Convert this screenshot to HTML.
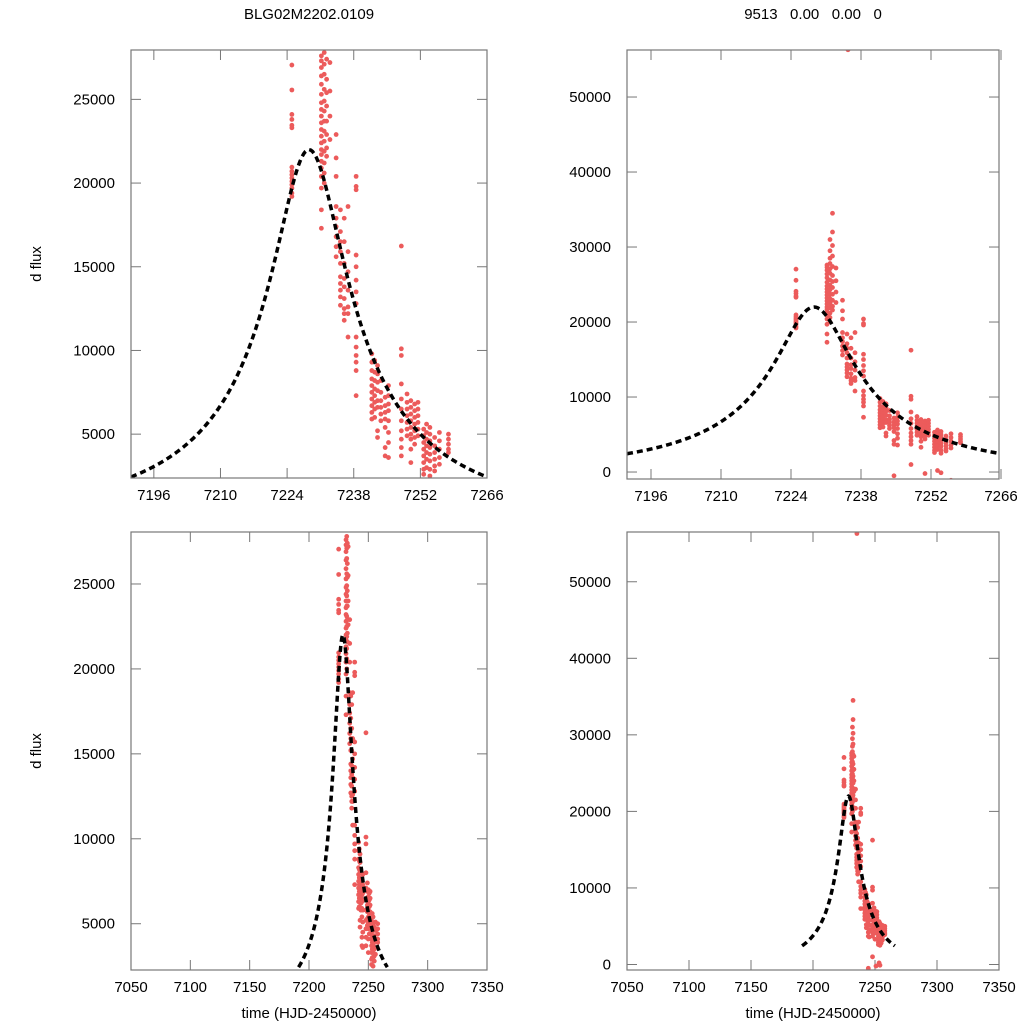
<!DOCTYPE html>
<html><head><meta charset="utf-8"><style>
html,body{margin:0;padding:0;background:#fff;}
svg{display:block;font-family:"Liberation Sans",Arial,sans-serif;}
</style></head><body>
<svg id="chart" width="1024" height="1024" viewBox="0 0 1024 1024" xmlns="http://www.w3.org/2000/svg">
<rect width="1024" height="1024" fill="#fff"/>
<text x="309" y="19" font-size="15" text-anchor="middle">BLG02M2202.0109</text>
<text x="813" y="19" font-size="15" text-anchor="middle" xml:space="preserve">9513   0.00   0.00   0</text>
<text transform="translate(41,264) rotate(-90)" font-size="15" text-anchor="middle">d flux</text>
<text transform="translate(41,751) rotate(-90)" font-size="15" text-anchor="middle">d flux</text>
<text x="309" y="1018" font-size="15" text-anchor="middle">time (HJD-2450000)</text>
<text x="813" y="1018" font-size="15" text-anchor="middle">time (HJD-2450000)</text>
</svg>
<script>
// observation epochs (HJD-2450000), one per group
const groupTimes = [7225.0,7231.2,7231.8,7232.3,7233.0,7234.3,7235.4,7235.2,7236.0,7236.8,7238.5,7241.8,7242.4,7243.0,7243.7,7244.6,7245.3,7248.0,7249.2,7250.0,7250.8,7251.5,7252.7,7253.3,7254.0,7255.0,7256.0,7257.9];
// flux values for each epoch group
const groupFluxes = [
 [27050,25560,24100,23800,23450,23300,20950,20700,20500,20300,20100,19900,19700,19400,19200],
 [27600,27300,26900,26400,25900,25300,24800,24400,24000,23600,23200,22800,22400,22000,21700,21300,20900,20400,19700,18400,17300],
 [31000,29500,28500,27800,27100,26500,25600,24900,24300,23700,23100,22500,21900,21200,20600,20000],
 [34500,32000,30200,28800,27400,26200,25400,24600,23700,22900,22100,21600],
 [27200,25500,24000,22600],
 [22900,21500,20400,18600,17900,17400,16800,16200,15600],
 [56300],
 [18400,17100,16500,15900,15200,14400,14000,13600,13200,12700],
 [17900,16500,15200,14300,13800,13100,12500,12200,11800],
 [18600,15900,14700,13600,12600,12200,10800],
 [20400,19800,19600,15700,15000,14200,13500,12800,10800,10200,9700,9300,8800,7300],
 [9800,9300,8800,8300,7900,7500,7100,6700,6300,5900],
 [9400,8700,8200,7700,7300,6900,6500,6000],
 [9100,8600,8100,7600,7000,6600,5200,4800],
 [8200,7500,7000,6600,6200,5800],
 [7200,6700,6300,5900,5400,4200,3700,-500],
 [7900,7300,6800,6400,5800,5100,4500,3600],
 [16240,10100,9700,8000,7100,6500,5800,5200,4700,4200,3700,1000],
 [7400,6900,6500,6100,5700,5300,4900],
 [7000,6600,6200,5800,5400,5000,4700,4100,3300],
 [6800,6400,6000,5600,5200,4800,4400,-200],
 [6900,6500,6100,5700,5300,4900],
 [5300,4900,4500,4100,3700,3300,2900,2600],
 [5600,5100,4700,4300,3900,3500,3000,200],
 [5400,5000,4600,4200,3800,3400,2900,2500,-100],
 [4800,4300,3900,3500,3100,2800],
 [5100,4600,4100,3600,3200,-1100],
 [5000,4700,4400,4100,3900]
];
// PSPL model parameters: t0, tE, u0, source flux
const modelParams = [7228.6, 52.6, 0.15, 3844];
const modelRange = [7191.2, 7266];
const xTicksZoom = [7196,7210,7224,7238,7252,7266];
const xTicksWide = [7050,7100,7150,7200,7250,7300,7350];
const yTicksSmall = [5000,10000,15000,20000,25000];
const yTicksBig = [0,10000,20000,30000,40000,50000];

const NS = "http://www.w3.org/2000/svg";
const svg = document.getElementById('chart');
function mk(tag, attrs, parent){const e=document.createElementNS(NS,tag);for(const k in attrs)e.setAttribute(k,attrs[k]);(parent||svg).appendChild(e);return e;}
function model(t){const [t0,tE,u0,fs]=modelParams;const tau=(t-t0)/tE;const u=Math.sqrt(u0*u0+tau*tau);const A=(u*u+2)/(u*Math.sqrt(u*u+4));return fs*(A-1);}

const panels = [
 {id:'top-left', x0:131,x1:487,y0:50,y1:478,xmin:7191.2,xmax:7266,ymin:2380,ymax:27950,xt:xTicksZoom,yt:yTicksSmall},
 {id:'top-right',x0:627,x1:999,y0:50,y1:479,xmin:7191.2,xmax:7265.6,ymin:-930,ymax:56270,xt:xTicksZoom,yt:yTicksBig},
 {id:'bottom-left',x0:131,x1:487,y0:532,y1:970,xmin:7050,xmax:7350,ymin:2276,ymax:28060,xt:xTicksWide,yt:yTicksSmall},
 {id:'bottom-right',x0:627,x1:999,y0:532,y1:970,xmin:7050,xmax:7350,ymin:-720,ymax:56500,xt:xTicksWide,yt:yTicksBig}
];

panels.forEach((p,i)=>{
 const X=t=>p.x0+(t-p.xmin)/(p.xmax-p.xmin)*(p.x1-p.x0);
 const Y=f=>p.y1-(f-p.ymin)/(p.ymax-p.ymin)*(p.y1-p.y0);
 const g=mk('g',{});
 
 
 const cp=mk('clipPath',{id:'clip'+i},g);
 mk('rect',{x:p.x0,y:p.y0,width:p.x1-p.x0,height:p.y1-p.y0},cp);
 p.xt.forEach(v=>{const x=X(v);
  const t1=mk('line',{x1:x,x2:x,y1:p.y1,y2:p.y1-10,stroke:'#777','stroke-width':1},g);
   
  mk('line',{x1:x,x2:x,y1:p.y0,y2:p.y0+10,stroke:'#777','stroke-width':1},g);
  const lb=mk('text',{x:x,y:p.y1+22,'font-size':15,'text-anchor':'middle'},g);lb.textContent=v;
   
 });
 p.yt.forEach(v=>{const y=Y(v);
  mk('line',{x1:p.x0,x2:p.x0+10,y1:y,y2:y,stroke:'#777','stroke-width':1},g);
  mk('line',{x1:p.x1,x2:p.x1-10,y1:y,y2:y,stroke:'#777','stroke-width':1},g);
  const lb=mk('text',{x:p.x0-16,y:y+5,'font-size':15,'text-anchor':'end'},g);lb.textContent=v;
   
 });
 const pg=mk('g',{'clip-path':'url(#clip'+i+')',fill:'#ec5b5b'},g);
  
 groupTimes.forEach((t,k)=>{groupFluxes[k].forEach(f=>{
  const c=mk('circle',{cx:X(t).toFixed(2),cy:Y(f).toFixed(2),r:2.4},pg);
   
 });});
 let d='';const n=200;
 for(let k=0;k<=n;k++){const t=modelRange[0]+(modelRange[1]-modelRange[0])*k/n;d+=(k?'L':'M')+X(t).toFixed(2)+','+Y(model(t)).toFixed(2);}
 const path=mk('path',{d:d,fill:'none',stroke:'#000','stroke-width':3.5,'stroke-dasharray':'6,4','clip-path':'url(#clip'+i+')'},g);
  
 const fr=mk('rect',{x:p.x0,y:p.y0,width:p.x1-p.x0,height:p.y1-p.y0,fill:'none',stroke:'#777','stroke-width':1.2},g);
  
});
</script>
</body></html>
